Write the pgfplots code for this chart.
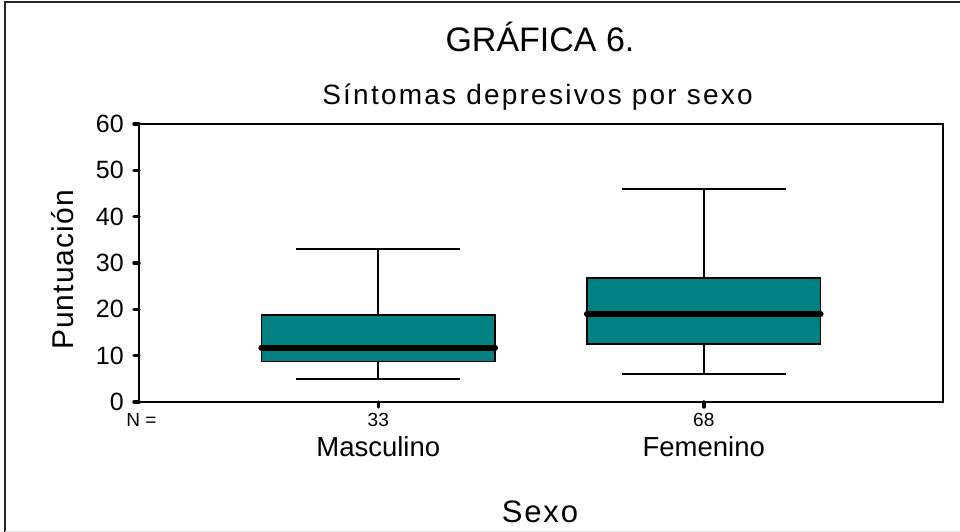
\documentclass[border=0pt]{standalone}
\usepackage{pgfplots}
\pgfplotsset{compat=1.18}
\usepackage{fontspec}
\setmainfont{Liberation Sans}
\definecolor{tealbox}{RGB}{0,128,128}
\begin{document}
\begin{tikzpicture}
\path[use as bounding box] (0pt,0pt) rectangle (960pt,532pt);
\draw[line width=1.5pt, black!85] (5pt,0pt) -- (5pt,530pt) -- (960pt,530pt);
\draw[line width=1pt, black!12] (5pt,0.5pt) -- (960pt,0.5pt);
\node[anchor=base] at (540pt,480pt) {\fontsize{34}{34}\selectfont GRÁFICA 6.};
\node[anchor=base] at (537.5pt,427pt) {\fontsize{28}{28}\selectfont\addfontfeature{LetterSpace=8}Síntomas depresivos por sexo};
\node[anchor=base, rotate=90] at (73pt,262pt) {\fontsize{30}{30}\selectfont\addfontfeature{LetterSpace=3.5}Puntuación};
\node[anchor=base] at (540pt,9pt) {\fontsize{31}{31}\selectfont\addfontfeature{LetterSpace=6}Sexo};
\node[anchor=base] at (141.5pt,105pt) {\fontsize{19}{19}\selectfont N =};
\begin{axis}[
  at={(139pt,130pt)}, anchor=south west,
  width=804pt, height=278pt, scale only axis,
  xmin=0.265, xmax=2.735, ymin=0, ymax=60,
  xtick={1,2}, xticklabels={,},
  ytick={0,10,...,60},
  tick pos=left,
  yticklabel style={font=\fontsize{25}{25}\selectfont, inner sep=0pt, xshift=-10pt},
  /pgf/number format/assume math mode=true,
  tick align=outside,
  major tick length=5pt,
  major tick style={line width=3.5pt, black, line cap=round},
  axis line style={line width=2.2pt},
  clip=false,
]
% Masculino
\addplot[draw=black, line width=1.6pt] coordinates {(1,18.75) (1,33)};
\addplot[draw=black, line width=1.6pt] coordinates {(1,5) (1,8.75)};
\addplot[draw=black, line width=1.6pt] coordinates {(0.748,33) (1.252,33)};
\addplot[draw=black, line width=1.6pt] coordinates {(0.748,5) (1.252,5)};
\addplot[fill=tealbox, draw=black, line width=1.6pt] coordinates {(0.641,8.75) (1.359,8.75) (1.359,18.75) (0.641,18.75)} -- cycle;
\addplot[draw=black, line width=6pt, line cap=round] coordinates {(0.641,11.75) (1.359,11.75)};
% Femenino
\addplot[draw=black, line width=1.6pt] coordinates {(2,26.75) (2,46)};
\addplot[draw=black, line width=1.6pt] coordinates {(2,6) (2,12.5)};
\addplot[draw=black, line width=1.6pt] coordinates {(1.748,46) (2.252,46)};
\addplot[draw=black, line width=1.6pt] coordinates {(1.748,6) (2.252,6)};
\addplot[fill=tealbox, draw=black, line width=1.6pt] coordinates {(1.641,12.5) (2.359,12.5) (2.359,26.75) (1.641,26.75)} -- cycle;
\addplot[draw=black, line width=6pt, line cap=round] coordinates {(1.641,19) (2.359,19)};
\node[anchor=base, yshift=-25pt] at (axis cs:1,0) {\fontsize{19}{19}\selectfont 33};
\node[anchor=base, yshift=-25pt] at (axis cs:2,0) {\fontsize{19}{19}\selectfont 68};
\node[anchor=base, yshift=-55pt] at (axis cs:1,0) {\fontsize{27.5}{27.5}\selectfont Masculino};
\node[anchor=base, yshift=-55pt] at (axis cs:2,0) {\fontsize{27.5}{27.5}\selectfont Femenino};
\end{axis}
\end{tikzpicture}
\end{document}
